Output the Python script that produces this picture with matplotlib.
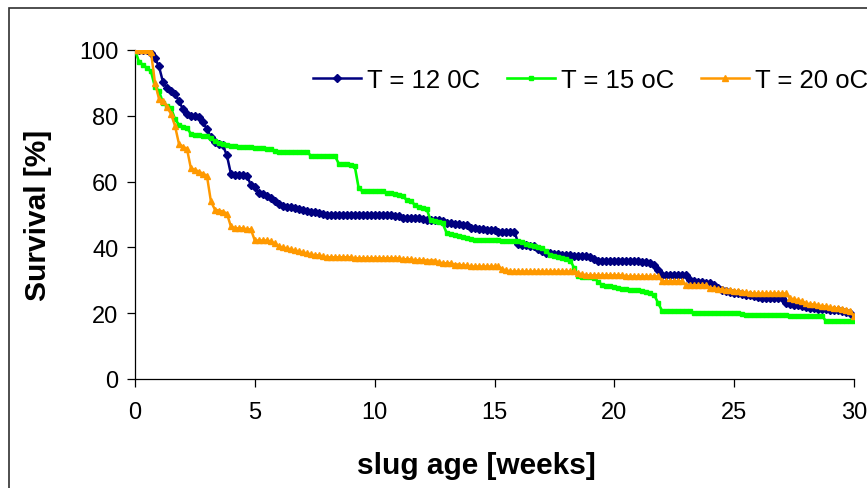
import numpy as np
import matplotlib
matplotlib.use("Agg")
import matplotlib.pyplot as plt
from matplotlib.patches import Rectangle

# Survival readings, six per week (week 0 .. week 30)
weeks = np.arange(181) / 6.0

surv_12 = [
    100, 100, 100, 100, 99.0, 97.5,
    95.0, 90.3, 88.5, 87.5, 86.7, 84.5,
    82.0, 80.5, 80.0, 80.0, 79.5, 78.0,
    76.0, 73.5, 72.0, 71.5, 71.0, 68.0,
    62.4, 62.0, 62.0, 62.0, 61.8, 59.0,
    58.5, 56.4, 56.2, 55.5, 55.0, 54.2,
    53.3, 52.7, 52.4, 52.4, 52.0, 51.8,
    51.5, 51.2, 50.9, 50.9, 50.6, 50.3,
    49.7, 49.7, 49.7, 49.7, 49.7, 49.7,
    49.7, 49.7, 49.7, 49.7, 49.7, 49.7,
    49.7, 49.7, 49.7, 49.7, 49.7, 49.4,
    49.4, 48.8, 48.8, 48.8, 48.8, 48.8,
    48.5, 48.2, 48.2, 48.2, 48.2, 47.9,
    47.3, 47.3, 47.0, 47.0, 46.7, 46.7,
    45.8, 45.8, 45.5, 45.5, 45.2, 45.2,
    45.2, 44.8, 44.8, 44.8, 44.8, 44.8,
    41.0, 40.6, 40.6, 40.3, 40.3, 39.4,
    38.8, 38.2, 38.2, 37.9, 37.9, 37.6,
    37.6, 37.6, 37.3, 37.3, 37.3, 37.3,
    37.0, 36.4, 36.0, 36.0, 36.0, 35.8,
    35.8, 35.8, 35.8, 35.8, 35.8, 35.8,
    35.8, 35.5, 35.5, 35.2, 34.5, 33.0,
    31.5, 31.5, 31.5, 31.5, 31.5, 31.5,
    31.5, 30.0, 29.7, 29.4, 29.4, 29.1,
    29.1, 28.5, 27.6, 27.0, 26.7, 26.4,
    26.1, 26.0, 25.8, 25.5, 25.5, 25.2,
    24.8, 24.5, 24.5, 24.5, 24.5, 24.5,
    24.5, 23.0, 22.7, 22.4, 22.4, 22.1,
    21.8, 21.5, 21.5, 21.2, 21.2, 21.2,
    20.9, 20.9, 20.9, 20.6, 20.3, 20.0,
    18.8,
]

surv_15 = [
    100, 96.4, 95.5, 94.5, 93.5, 88.8,
    87.5, 84.0, 83.0, 82.5, 79.0, 77.3,
    76.7, 76.4, 74.5, 74.2, 74.2, 73.9,
    73.9, 73.3, 72.4, 71.8, 71.5, 71.2,
    70.9, 70.9, 70.6, 70.6, 70.6, 70.6,
    70.3, 70.3, 70.3, 70.0, 70.0, 69.4,
    69.1, 69.1, 69.1, 69.1, 69.1, 69.1,
    69.1, 69.1, 67.9, 67.9, 67.9, 67.9,
    67.9, 67.9, 67.9, 65.5, 65.5, 65.2,
    65.0, 64.8, 58.0, 57.0, 57.0, 57.0,
    57.0, 57.0, 57.0, 56.4, 56.4, 56.1,
    55.8, 55.5, 54.5, 54.2, 53.0, 52.4,
    52.1, 51.8, 48.2, 47.9, 47.6, 47.3,
    44.5, 44.2, 43.9, 43.6, 43.3, 43.0,
    42.7, 42.4, 42.4, 42.1, 42.1, 42.1,
    42.1, 42.1, 41.8, 41.8, 41.8, 41.8,
    41.8, 41.5, 41.0, 40.6, 40.3, 40.0,
    39.7, 38.8, 37.6, 37.3, 37.0, 36.7,
    36.4, 36.0, 33.6, 31.2, 31.0, 30.9,
    30.9, 30.8, 29.5, 28.5, 28.3, 28.2,
    28.0, 27.6, 27.3, 27.3, 27.0, 27.0,
    27.0, 26.7, 26.4, 26.0, 25.5, 23.0,
    20.6, 20.6, 20.6, 20.6, 20.6, 20.6,
    20.6, 20.6, 20.0, 20.0, 20.0, 20.0,
    20.0, 20.0, 20.0, 20.0, 20.0, 20.0,
    20.0, 20.0, 19.7, 19.4, 19.4, 19.4,
    19.4, 19.4, 19.4, 19.4, 19.4, 19.4,
    19.4, 19.4, 19.1, 19.1, 19.1, 19.1,
    19.1, 19.1, 19.1, 19.1, 19.1, 17.6,
    17.6, 17.6, 17.6, 17.6, 17.6, 17.6,
    17.6,
]

surv_20 = [
    100, 100, 100, 100, 99.4, 90.0,
    85.2, 84.5, 82.7, 80.6, 77.0, 71.5,
    70.6, 70.0, 64.0, 63.6, 63.0, 62.4,
    61.8, 54.0, 51.5, 51.2, 50.9, 50.3,
    46.4, 45.8, 45.8, 45.8, 45.5, 45.5,
    42.1, 42.1, 42.1, 42.1, 41.8, 41.2,
    40.3, 40.0, 39.7, 39.4, 39.1, 38.8,
    38.5, 38.2, 37.9, 37.6, 37.6, 37.3,
    37.0, 37.0, 37.0, 37.0, 37.0, 37.0,
    37.0, 36.7, 36.7, 36.7, 36.7, 36.7,
    36.7, 36.7, 36.7, 36.7, 36.7, 36.7,
    36.7, 36.4, 36.4, 36.4, 36.1, 36.1,
    36.1, 36.0, 36.0, 36.0, 35.5, 35.2,
    35.2, 35.2, 34.8, 34.8, 34.5, 34.5,
    34.2, 34.2, 34.2, 34.2, 34.2, 34.2,
    34.2, 34.2, 33.3, 33.0, 32.7, 32.7,
    32.7, 32.7, 32.7, 32.7, 32.7, 32.7,
    32.7, 32.7, 32.7, 32.7, 32.7, 32.7,
    32.7, 32.7, 32.7, 32.1, 31.8, 31.5,
    31.5, 31.5, 31.5, 31.5, 31.5, 31.5,
    31.5, 31.5, 31.5, 31.2, 31.2, 31.2,
    31.2, 31.2, 31.2, 31.2, 31.2, 31.2,
    29.7, 29.7, 29.7, 29.7, 29.7, 29.7,
    28.5, 28.5, 28.5, 28.5, 28.5, 28.5,
    27.6, 27.6, 27.3, 27.3, 27.0, 27.0,
    26.7, 26.7, 26.4, 26.4, 26.0, 26.0,
    26.0, 26.0, 26.0, 26.0, 26.0, 26.0,
    26.0, 26.0, 24.5, 24.2, 23.9, 23.6,
    23.0, 22.7, 22.7, 22.4, 22.1, 22.1,
    21.8, 21.5, 21.5, 21.2, 20.9, 20.6,
    19.0,
]

labels = ["T = 12 0C", "T = 15 oC", "T = 20 oC"]
x_ticks = [0, 5, 10, 15, 20, 25, 30]
y_ticks = [0, 20, 40, 60, 80, 100]

plt.rcParams["font.family"] = ["Liberation Sans", "DejaVu Sans"]

W, H = 867, 489
fig = plt.figure(figsize=(W / 100, H / 100), dpi=100)
ax = fig.add_axes([135 / W, 1 - 380 / H, (854 - 135) / W, (380 - 51) / H])

ax.plot(weeks, surv_12, color="#000080", lw=1.8, marker="D", ms=3.8,
        mec="#000080", mfc="#000080", label=labels[0], zorder=3)
ax.plot(weeks, surv_15, color="#00FF00", lw=1.9, marker="s", ms=2.8,
        mec="#00FF00", mfc="#00FF00", label=labels[1], zorder=4)
ax.plot(weeks, surv_20, color="#FF9900", lw=1.8, marker="^", ms=4.8,
        mec="#FF9900", mfc="#FF9900", label=labels[2], zorder=5)

ax.set_xlim(0, 30)
ax.set_ylim(0, 100)
ax.set_xticks(x_ticks)
ax.set_yticks(y_ticks)
for s in ("top", "right"):
    ax.spines[s].set_visible(False)
for s in ("left", "bottom"):
    ax.spines[s].set_color("black")
    ax.spines[s].set_linewidth(0.9)
ax.tick_params(axis="both", direction="out", length=6, width=0.9,
               labelsize=17, colors="black")
ax.tick_params(axis="y", pad=6)
ax.tick_params(axis="x", pad=10)

fig.text(476 / W, 1 - 466 / H, "slug age [weeks]", ha="center", va="center",
         fontsize=21.5, fontweight="bold")
fig.text(38 / W, 1 - 215 / H, "Survival [%]", ha="center", va="center",
         rotation=90, fontsize=21.5, fontweight="bold")

ax.legend(loc="center left", bbox_to_anchor=(313 / W, 1 - 81 / H),
          bbox_transform=fig.transFigure, ncol=3, frameon=False,
          fontsize=18.5, handlelength=1.85, handletextpad=0.25,
          columnspacing=1.05, borderpad=0, borderaxespad=0)

# outer chart frame
fig.patches.append(Rectangle((9 / W, -0.2), 1.2, 1.2 - 9 / H,
                             transform=fig.transFigure, fill=False,
                             edgecolor="#303030", lw=1.2))

fig.savefig("out.png", dpi=100)
